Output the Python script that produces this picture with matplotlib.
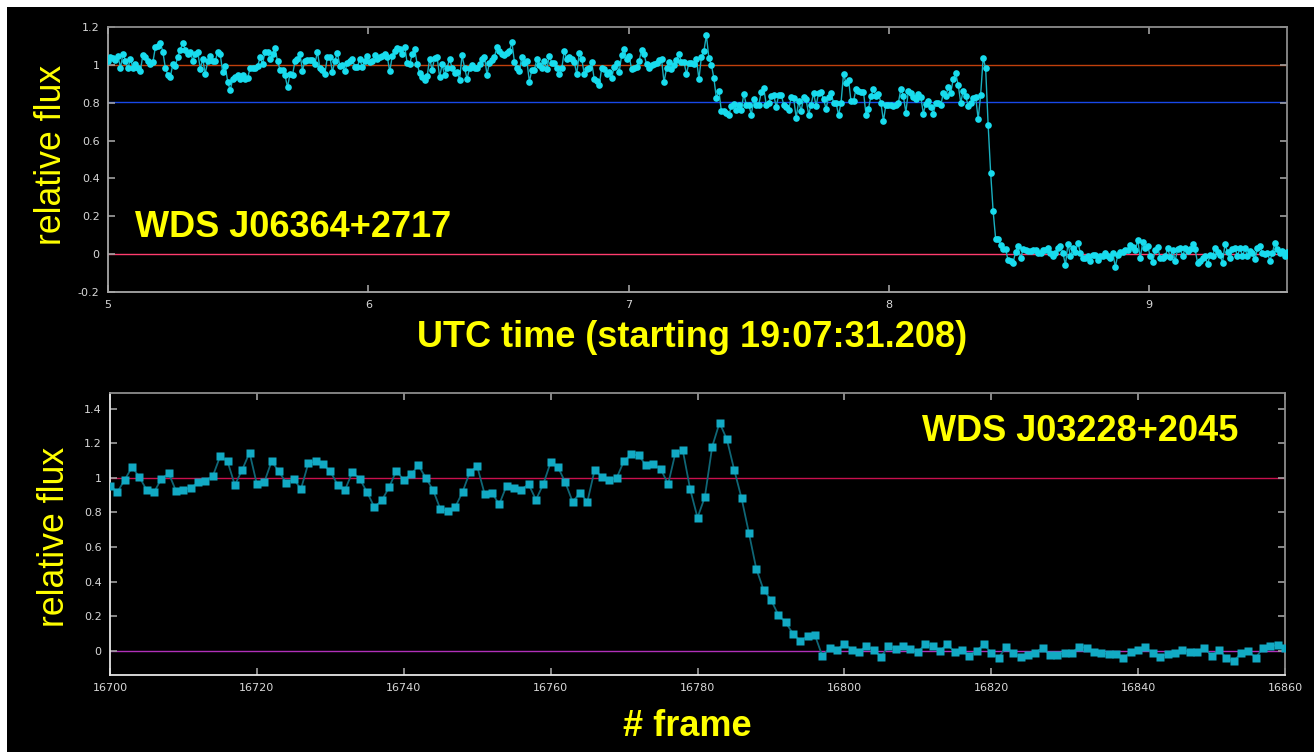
import matplotlib
matplotlib.use('Agg')
import matplotlib.pyplot as plt
from matplotlib.patches import Rectangle
from matplotlib.ticker import FormatStrFormatter
import numpy as np

# --- top light curve: WDS J06364+2717 (UTC seconds after 19:07:31.208) ---
t_start = 5.0
t_step = 0.00958
flux_top = [
    # 5.0 - 6.1
    1.018, 1.040, 1.037, 1.026, 1.049, 0.984, 1.058, 1.023, 0.982, 1.032,
    0.982, 1.005, 0.982, 0.970, 1.053, 1.040, 1.023, 1.005, 1.014, 1.093,
    1.102, 1.116, 1.070, 0.984, 0.947, 0.935, 1.005, 0.993, 1.044, 1.081,
    1.114, 1.081, 1.058, 1.070, 1.023, 1.058, 1.070, 0.979, 1.032, 0.953,
    1.018, 1.049, 1.023, 1.018, 1.070, 1.058, 0.961, 0.996, 0.912, 0.865,
    0.923, 0.935, 0.947, 0.926, 0.944, 0.923, 0.930, 0.984, 0.984, 0.984,
    0.993, 1.040, 1.005, 1.070, 1.067, 1.032, 1.058, 1.089, 1.018, 0.975,
    0.974, 0.944, 0.882, 0.953, 0.947, 1.018, 1.032, 1.058, 0.970, 1.023,
    1.028, 1.028, 1.026, 1.005, 1.070, 0.982, 0.974, 0.953, 1.044, 1.044,
    0.961, 1.023, 1.063, 0.996, 1.000, 0.965, 1.009, 1.023, 1.032, 0.988,
    0.988, 1.032, 0.988, 1.023, 1.049, 1.014, 1.023, 1.053, 1.032, 1.044,
    1.049, 1.058, 1.044, 0.965, 1.046, 1.075, 1.088,
    # 6.1 - 7.3
    1.085, 1.056, 1.096, 1.009, 1.003, 1.056, 1.085, 1.003, 0.955, 0.934,
    0.922, 0.939, 1.033, 0.974, 1.038, 1.043, 0.934, 1.003, 0.946, 0.986,
    1.030, 0.986, 0.955, 0.960, 0.922, 1.050, 0.986, 0.925, 0.981, 0.998,
    0.986, 0.981, 1.003, 1.030, 1.043, 0.948, 1.012, 1.024, 1.042, 1.096,
    1.073, 1.056, 1.050, 1.064, 1.073, 1.120, 1.016, 0.983, 0.969, 1.043,
    1.009, 1.021, 0.911, 0.974, 0.974, 1.030, 0.998, 0.981, 1.021, 0.977,
    1.047, 1.012, 1.012, 0.986, 0.951, 0.981, 1.073, 1.030, 1.043, 1.030,
    1.016, 0.951, 1.061, 1.033, 0.951, 0.977, 0.981, 1.016, 0.925, 0.917,
    0.894, 0.981, 0.977, 0.951, 0.963, 0.929, 0.991, 1.009, 0.960, 1.050,
    1.085, 1.033, 1.047, 0.977, 0.981, 0.991, 1.021, 1.078, 1.056, 1.003,
    0.986, 0.998, 1.003, 1.009, 1.024, 1.030, 0.908, 0.981, 1.016, 0.977,
    0.998, 1.026, 1.056, 1.016, 1.016, 0.951, 1.012, 1.012, 1.003, 1.030,
    0.925,
    # 7.3 - 8.4
    1.043, 1.073, 1.157, 1.035, 1.000, 0.930, 0.824, 0.864, 0.755, 0.755,
    0.748, 0.734, 0.783, 0.795, 0.760, 0.790, 0.760, 0.847, 0.790, 0.790,
    0.737, 0.817, 0.786, 0.790, 0.856, 0.878, 0.790, 0.800, 0.835, 0.842,
    0.777, 0.842, 0.842, 0.790, 0.777, 0.760, 0.830, 0.824, 0.720, 0.807,
    0.755, 0.830, 0.817, 0.737, 0.790, 0.852, 0.783, 0.852, 0.856, 0.817,
    0.769, 0.830, 0.852, 0.800, 0.800, 0.734, 0.800, 0.951, 0.904, 0.922,
    0.807, 0.807, 0.873, 0.864, 0.859, 0.859, 0.737, 0.769, 0.835, 0.873,
    0.835, 0.847, 0.800, 0.703, 0.790, 0.786, 0.786, 0.783, 0.790, 0.800,
    0.873, 0.835, 0.748, 0.864, 0.852, 0.830, 0.817, 0.847, 0.830, 0.743,
    0.795, 0.807, 0.777, 0.743, 0.800, 0.800, 0.786, 0.852, 0.835, 0.882,
    0.852, 0.925, 0.955, 0.894, 0.800, 0.864, 0.835, 0.783, 0.800, 0.824,
    0.830, 0.713, 0.842, 1.038, 0.981, 0.682,
    # 8.4 - 9.53
    0.430, 0.228, 0.082, 0.082, 0.047, 0.025, 0.025, -0.032, -0.035, -0.046,
    0.012, 0.042, -0.023, 0.025, 0.021, 0.018, 0.018, 0.021, 0.021, 0.004,
    0.007, 0.021, 0.021, 0.030, 0.004, -0.011, 0.004, 0.030, 0.042, 0.007,
    -0.058, 0.056, -0.011, 0.030, 0.012, 0.060, 0.007, -0.018, -0.023, -0.011,
    -0.035, -0.005, -0.005, -0.032, -0.011, -0.011, 0.004, -0.011, -0.023, 0.007,
    -0.067, -0.005, 0.012, 0.012, 0.021, 0.021, 0.047, 0.039, 0.021, 0.077,
    -0.023, 0.065, 0.030, 0.042, -0.011, -0.040, 0.021, 0.039, -0.023, -0.023,
    -0.011, 0.030, -0.014, 0.021, -0.035, 0.025, 0.030, -0.011, 0.030, 0.018,
    0.025, 0.053, 0.025, -0.046, -0.035, -0.023, -0.011, -0.053, -0.005, -0.011,
    0.035, 0.012, -0.005, -0.046, 0.053, 0.012, -0.023, 0.025, 0.030, -0.011,
    0.035, -0.011, 0.030, -0.011, 0.018, 0.004, -0.028, 0.030, 0.042, 0.004,
    0.000, 0.007, -0.035, 0.007, 0.060, 0.025, 0.007, 0.018, -0.011, 0.012,
]
top_levels = [1.0, 0.805, 0.0]
top_level_colors = ['#c0400c', '#1848e8', '#ff3c6e']

# --- bottom light curve: WDS J03228+2045 (frame number) ---
frame_first = 16700
flux_bottom = [
    0.954, 0.917, 0.988, 1.062, 1.004, 0.929, 0.917, 0.994, 1.025, 0.923,
    0.932, 0.942, 0.973, 0.983, 1.010, 1.124, 1.095, 0.958, 1.046, 1.145,
    0.963, 0.973, 1.095, 1.037, 0.969, 0.994, 0.934, 1.083, 1.095, 1.077,
    1.037, 0.959, 0.929, 1.033, 0.994, 0.917, 0.830, 0.869, 0.944, 1.042,
    0.985, 1.021, 1.071, 1.000, 0.929, 0.817, 0.809, 0.830, 0.917, 1.033,
    1.066, 0.909, 0.913, 0.846, 0.954, 0.938, 0.932, 0.963, 0.873, 0.963,
    1.089, 1.062, 0.973, 0.861, 0.913, 0.861, 1.046, 1.004, 0.988, 1.000,
    1.098, 1.135, 1.129, 1.071, 1.077, 1.050, 0.963, 1.145, 1.158, 0.934,
    0.770, 0.888, 1.180, 1.318, 1.222, 1.046, 0.882, 0.681, 0.475, 0.351,
    0.295, 0.208, 0.164, 0.099, 0.058, 0.083, 0.089, -0.031, 0.017, 0.006,
    0.041, 0.006, -0.006, 0.027, 0.006, -0.035, 0.027, 0.012, 0.027, 0.012,
    -0.006, 0.037, 0.027, 0.000, 0.037, -0.006, 0.006, -0.029, 0.000, 0.037,
    -0.012, -0.041, 0.021, -0.015, -0.035, -0.025, -0.010, 0.017, -0.025, -0.025,
    -0.010, -0.010, 0.023, 0.017, -0.006, -0.015, -0.019, -0.019, -0.044, -0.006,
    0.006, 0.021, -0.015, -0.035, -0.019, -0.010, 0.006, -0.006, -0.006, 0.017,
    -0.029, 0.006, -0.041, -0.060, -0.015, 0.000, -0.041, 0.017, 0.027, 0.033,
    0.017,
]
bottom_levels = [1.0, 0.0]
bottom_level_colors = ['#c8104e', '#b030b8']

t_top = t_start + t_step * np.arange(len(flux_top))
frames = frame_first + np.arange(len(flux_bottom))

W, H = 1314, 752
fig = plt.figure(figsize=(W / 100, H / 100), dpi=100, facecolor='white')
# black canvas with the thin white strip on the top and left edges
fig.patches.append(Rectangle((7 / W, 0), 1, 1 - 7 / H, transform=fig.transFigure,
                             facecolor='black', edgecolor='none', zorder=-10))

YELLOW = '#ffff00'
TICKC = '#d8d8d8'
label_font = ['Liberation Sans', 'DejaVu Sans']


def style_axes(ax, spine_lr='#a8a8a8'):
    ax.set_facecolor('black')
    for side in ['top', 'right']:
        ax.spines[side].set_color('#8c8c8c')
    for side in ['left', 'bottom']:
        ax.spines[side].set_color(spine_lr)
    for sp in ax.spines.values():
        sp.set_linewidth(1.3)
    ax.tick_params(direction='in', top=True, right=True, length=5, width=1.2,
                   color='#a0a0a0', labelcolor=TICKC, labelsize=8, pad=6)
    for lab in ax.get_xticklabels() + ax.get_yticklabels():
        lab.set_family('DejaVu Sans')
    ax.yaxis.set_major_formatter(FormatStrFormatter('%g'))


# ---------------- top panel ----------------
ax1 = fig.add_axes([108 / W, 1 - 292 / H, (1287 - 108) / W, (292 - 27) / H])
for lvl, c in zip(top_levels, top_level_colors):
    ax1.axhline(lvl, color=c, lw=1.0, zorder=1)
ax1.plot(t_top, flux_top, '-', color='#1ab0c0', lw=1.0, zorder=2)
ax1.plot(t_top, flux_top, 'o', color='#18dcee', ms=4.8, mec='none', zorder=3)
ax1.set_xlim(5.0, 9.53)
ax1.set_ylim(-0.2, 1.2)
ax1.set_xticks([5, 6, 7, 8, 9])
ax1.set_yticks(np.arange(-0.2, 1.21, 0.2))
style_axes(ax1)
ax1.text(0.023, 0.245, 'WDS J06364+2717', transform=ax1.transAxes, color=YELLOW,
         fontsize=26, fontweight='bold', family=label_font, ha='left', va='center')

fig.text(52 / W, 1 - 155 / H, 'relative flux', rotation=90, color=YELLOW,
         fontsize=25.7, family=label_font, ha='center', va='center')
fig.text(692 / W, 1 - 337 / H, 'UTC time (starting 19:07:31.208)', color=YELLOW,
         fontsize=26, fontweight='bold', family=label_font, ha='center', va='center')

# ---------------- bottom panel ----------------
ax2 = fig.add_axes([110 / W, 1 - 675 / H, (1285 - 110) / W, (675 - 393) / H])
for lvl, c in zip(bottom_levels, bottom_level_colors):
    ax2.axhline(lvl, color=c, lw=1.0, zorder=1)
ax2.plot(frames, flux_bottom, '-', color='#0f6676', lw=1.3, zorder=2)
ax2.plot(frames, flux_bottom, 's', color='#12aac4', ms=5.2, mec='none', zorder=3)
ax2.set_xlim(16700, 16860)
ax2.set_ylim(-0.14, 1.49)
ax2.set_xticks(np.arange(16700, 16861, 20))
ax2.set_yticks(np.arange(0, 1.41, 0.2))
style_axes(ax2, spine_lr='#e6e6e6')
ax2.text(0.96, 0.865, 'WDS J03228+2045', transform=ax2.transAxes, color=YELLOW,
         fontsize=26, fontweight='bold', family=label_font, ha='right', va='center')

fig.text(55 / W, 1 - 537 / H, 'relative flux', rotation=90, color=YELLOW,
         fontsize=25.7, family=label_font, ha='center', va='center')
fig.text(687 / W, 1 - 727 / H, '# frame', color=YELLOW,
         fontsize=26, fontweight='bold', family=label_font, ha='center', va='center')

fig.savefig('out.png', dpi=100, facecolor=fig.get_facecolor())
